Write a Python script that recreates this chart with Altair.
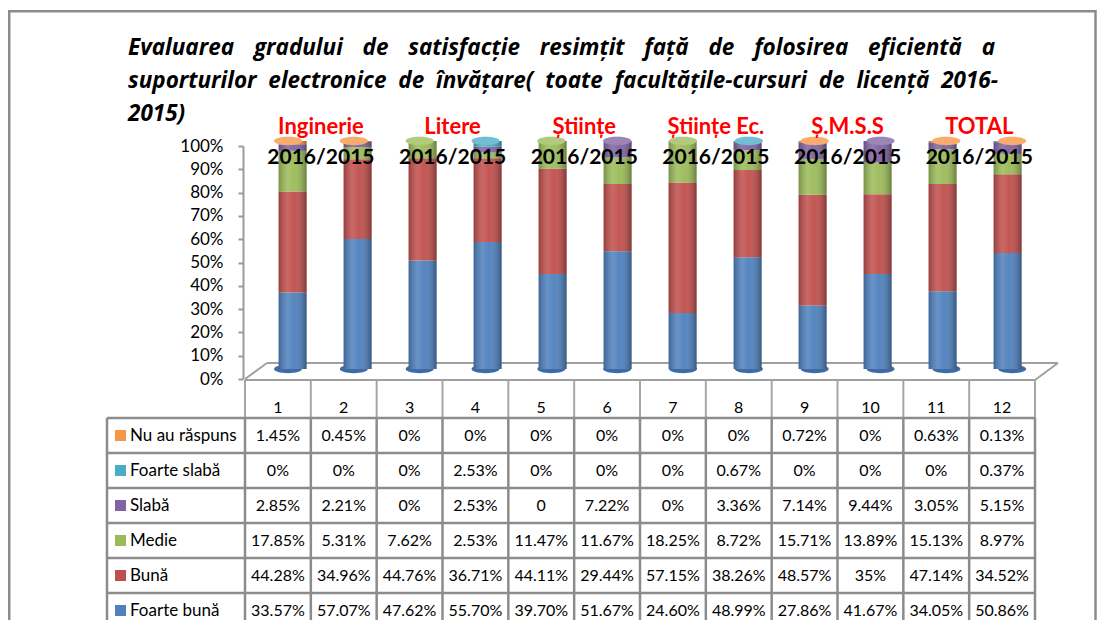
import altair as alt
import pandas as pd

# ---------------- data ----------------
columns = [1, 2, 3, 4, 5, 6, 7, 8, 9, 10, 11, 12]

# stack order: bottom -> top
categories = ["Foarte bună", "Bună", "Medie", "Slabă", "Foarte slabă", "Nu au răspuns"]
colors = ["#4F81BD", "#C0504D", "#9BBB59", "#8064A2", "#4BACC6", "#F79646"]

# table rows: top -> bottom
table_rows = ["Nu au răspuns", "Foarte slabă", "Slabă", "Medie", "Bună", "Foarte bună"]

nu_au_raspuns = ["1.45%", "0.45%", "0%", "0%", "0%", "0%", "0%", "0%", "0.72%", "0%", "0.63%", "0.13%"]
foarte_slaba = ["0%", "0%", "0%", "2.53%", "0%", "0%", "0%", "0.67%", "0%", "0%", "0%", "0.37%"]
slaba = ["2.85%", "2.21%", "0%", "2.53%", "0", "7.22%", "0%", "3.36%", "7.14%", "9.44%", "3.05%", "5.15%"]
medie = ["17.85%", "5.31%", "7.62%", "2.53%", "11.47%", "11.67%", "18.25%", "8.72%", "15.71%", "13.89%", "15.13%", "8.97%"]
buna = ["44.28%", "34.96%", "44.76%", "36.71%", "44.11%", "29.44%", "57.15%", "38.26%", "48.57%", "35%", "47.14%", "34.52%"]
foarte_buna = ["33.57%", "57.07%", "47.62%", "55.70%", "39.70%", "51.67%", "24.60%", "48.99%", "27.86%", "41.67%", "34.05%", "50.86%"]

groups = ["Inginerie", "Litere", "Științe", "Științe Ec.", "Ș.M.S.S", "TOTAL"]
period = "2016/2015"

y_ticks = [0, 0.1, 0.2, 0.3, 0.4, 0.5, 0.6, 0.7, 0.8, 0.9, 1.0]

title_line1 = "Evaluarea gradului de satisfacție resimțit față de folosirea eficientă a"
title_line2 = "suporturilor electronice de învățare( toate facultățile-cursuri de licență 2016-"
title_line3 = "2015)"

# ---------------- tables built from the lists ----------------
series = {
    "Nu au răspuns": nu_au_raspuns,
    "Foarte slabă": foarte_slaba,
    "Slabă": slaba,
    "Medie": medie,
    "Bună": buna,
    "Foarte bună": foarte_buna,
}

def num(s):
    return float(s.rstrip("%"))

def justify(line, extra):
    # widen word gaps (non-collapsing spaces) to mimic the justified paragraph
    return (" " + extra).join(line.split(" "))

title_text = "\n".join([
    justify(title_line1, "\u00a0\u00a0\u200a"),
    justify(title_line2, "\u2009\u200a"),
    title_line3,
])

bar_rows = []
for cat in categories:
    for c, s in zip(columns, series[cat]):
        bar_rows.append({"col": c, "cat": cat, "value": num(s), "ord": categories.index(cat)})
bar_df = pd.DataFrame(bar_rows)

cell_rows = []
for r, cat in enumerate(table_rows):
    for c, s in zip(columns, series[cat]):
        cell_rows.append({"col": c, "row": r, "txt": s})
cell_df = pd.DataFrame(cell_rows)

leg_df = pd.DataFrame({"row": list(range(len(table_rows))), "cat": table_rows})

top_rows = []
for i, c in enumerate(columns):
    top = categories[0]
    for cat in categories:
        if num(series[cat][i]) > 0:
            top = cat
    top_rows.append({"col": c, "cat": top, "y": 1.0, "y0": 0.0})
top_df = pd.DataFrame(top_rows)

grp_df = pd.DataFrame({
    "pos": [(columns[2 * k] + columns[2 * k + 1]) / 2 for k in range(len(groups))],
    "g": groups,
    "p": [period] * len(groups),
})

hdr_df = pd.DataFrame({"col": columns, "lbl": [str(c) for c in columns]})
bnd_df = pd.DataFrame({"b": [c - 0.5 for c in columns] + [columns[-1] + 0.5]})
rbnd_df = pd.DataFrame({"r": [r - 0.5 for r in range(len(table_rows) + 1)]})
tick_df = pd.DataFrame({"t": y_ticks})
dummy = pd.DataFrame({"a": [0]})
title_df = pd.DataFrame({"t": [title_text]})

# ---------------- scales ----------------
n = len(columns)
BAR_X = alt.Scale(domain=[0.5, n + 0.5], range=[247.1, 1037.1])
BAR_Y = alt.Scale(domain=[0, 1], range=[361, 133])
AX_Y = alt.Scale(domain=[0, 1], range=[371, 138])
TAB_X = alt.Scale(domain=[0.5, n + 0.5], range=[237, 1027])
TAB_Y = alt.Scale(domain=[-0.5, len(table_rows) - 0.5], range=[410, 620])
COLOR = alt.Scale(domain=categories, range=colors)

GRID = "#8c8c8c"
FONT = "Lato"
BAR_W = 28
ELLIPSE = "M-1,0 A1,0.3 0 1,1 1,0 A1,0.3 0 1,1 -1,0 Z"

# ---------------- layers ----------------
border = alt.Chart(dummy).mark_rect(fillOpacity=0, stroke=GRID, strokeWidth=2.5).encode(
    x=alt.value(1.25), x2=alt.value(1087.5), y=alt.value(3.25), y2=alt.value(700)
)

title = alt.Chart(title_df).mark_text(
    align="left", baseline="alphabetic", lineBreak="\n", lineHeight=33,
    font="Open Sans", fontSize=22.5, fontStyle="italic", fontWeight="bold", color="black"
).encode(x=alt.value(120), y=alt.value(47), text="t:N")

axis_layer = alt.Chart(tick_df).mark_point(opacity=0).encode(
    y=alt.Y("t:Q", scale=AX_Y, axis=alt.Axis(
        values=y_ticks, format=".0%", offset=-235, tickSize=5, labelPadding=15,
        domainColor="#9a9a9a", domainWidth=2, tickColor="#9a9a9a", tickWidth=2,
        labelFont=FONT, labelFontSize=17, labelColor="black", grid=False, title=None,
        labelFlush=False, labelOverlap=False,
    ))
)

floor = [
    alt.Chart(dummy).mark_rule(color="#a0a0a0", strokeWidth=2).encode(
        x=alt.value(237), y=alt.value(371), x2=alt.value(259), y2=alt.value(355)),
    alt.Chart(dummy).mark_rule(color="#a0a0a0", strokeWidth=2).encode(
        x=alt.value(259), y=alt.value(355), x2=alt.value(1050), y2=alt.value(355)),
    alt.Chart(dummy).mark_rule(color="#a0a0a0", strokeWidth=2).encode(
        x=alt.value(1050), y=alt.value(355), x2=alt.value(1027), y2=alt.value(372)),
    alt.Chart(dummy).mark_rule(color="#a0a0a0", strokeWidth=2).encode(
        x=alt.value(237), y=alt.value(372), x2=alt.value(1027), y2=alt.value(372)),
]

bottom_caps = alt.Chart(top_df).mark_point(
    shape=ELLIPSE, size=BAR_W * BAR_W, filled=True, opacity=1, strokeWidth=0, color="#3E6BA6"
).encode(
    x=alt.X("col:Q", scale=BAR_X, axis=None),
    y=alt.Y("y0:Q", scale=BAR_Y, axis=None),
)

bars = alt.Chart(bar_df).mark_bar(width=BAR_W).encode(
    x=alt.X("col:Q", scale=BAR_X, axis=None),
    y=alt.Y("value:Q", stack="normalize", scale=BAR_Y, axis=None),
    color=alt.Color("cat:N", scale=COLOR, legend=None),
    order=alt.Order("ord:Q"),
)

shade = alt.Gradient(
    gradient="linear", x1=0, x2=1, y1=0, y2=0,
    stops=[
        alt.GradientStop(color="rgba(0,0,0,0.22)", offset=0),
        alt.GradientStop(color="rgba(255,255,255,0.14)", offset=0.32),
        alt.GradientStop(color="rgba(255,255,255,0.04)", offset=0.55),
        alt.GradientStop(color="rgba(0,0,0,0.32)", offset=1),
    ],
)
overlay = alt.Chart(top_df).mark_bar(width=BAR_W, color=shade).encode(
    x=alt.X("col:Q", scale=BAR_X, axis=None),
    y=alt.Y("y0:Q", scale=BAR_Y, axis=None),
    y2="y:Q",
)

top_caps = alt.Chart(top_df).mark_point(
    shape=ELLIPSE, size=BAR_W * BAR_W, filled=True, opacity=1, strokeWidth=0
).encode(
    x=alt.X("col:Q", scale=BAR_X, axis=None),
    y=alt.Y("y:Q", scale=BAR_Y, axis=None),
    color=alt.Color("cat:N", scale=COLOR, legend=None),
)
cap_light = alt.Chart(top_df).mark_point(
    shape=ELLIPSE, size=BAR_W * BAR_W, filled=True, opacity=0.22, strokeWidth=0, color="white"
).encode(
    x=alt.X("col:Q", scale=BAR_X, axis=None),
    y=alt.Y("y:Q", scale=BAR_Y, axis=None),
)

grp_text = alt.Chart(grp_df).mark_text(
    align="center", baseline="alphabetic", font=FONT, fontSize=22, fontWeight="bold", color="#FF0000"
).encode(x=alt.X("pos:Q", scale=BAR_X, axis=None), y=alt.value(126), text="g:N")

per_text = alt.Chart(grp_df).mark_text(
    align="center", baseline="alphabetic", font=FONT, fontSize=21, fontWeight="bold", color="black"
).encode(x=alt.X("pos:Q", scale=BAR_X, axis=None), y=alt.value(156), text="p:N")

hdr_text = alt.Chart(hdr_df).mark_text(
    align="center", baseline="middle", font=FONT, fontSize=16, color="black"
).encode(x=alt.X("col:Q", scale=TAB_X, axis=None), y=alt.value(400), text="lbl:N")

hdr_rules = alt.Chart(bnd_df).mark_rule(color="#a6a6a6", strokeWidth=2).encode(
    x=alt.X("b:Q", scale=TAB_X, axis=None), y=alt.value(372), y2=alt.value(410)
)
v_rules = alt.Chart(bnd_df).mark_rule(color=GRID, strokeWidth=2.5).encode(
    x=alt.X("b:Q", scale=TAB_X, axis=None), y=alt.value(410), y2=alt.value(700)
)
left_rule = alt.Chart(dummy).mark_rule(color=GRID, strokeWidth=2.5).encode(
    x=alt.value(99), y=alt.value(410), y2=alt.value(700)
)
h_rules = alt.Chart(rbnd_df).mark_rule(color=GRID, strokeWidth=2.5).encode(
    y=alt.Y("r:Q", scale=TAB_Y, axis=None), x=alt.value(99), x2=alt.value(1027)
)

cells = alt.Chart(cell_df).mark_text(
    align="center", baseline="middle", font=FONT, fontSize=16, color="black"
).encode(
    x=alt.X("col:Q", scale=TAB_X, axis=None),
    y=alt.Y("row:Q", scale=TAB_Y, axis=None),
    text="txt:N",
)

swatches = alt.Chart(leg_df).mark_square(size=121, opacity=1).encode(
    x=alt.value(112.5),
    y=alt.Y("row:Q", scale=TAB_Y, axis=None),
    color=alt.Color("cat:N", scale=COLOR, legend=None),
)
leg_text = alt.Chart(leg_df).mark_text(
    align="left", baseline="middle", font=FONT, fontSize=17, color="black"
).encode(
    x=alt.value(122),
    y=alt.Y("row:Q", scale=TAB_Y, axis=None),
    text="cat:N",
)

chart = alt.layer(
    border, title, axis_layer, *floor, bottom_caps, bars, overlay, top_caps, cap_light,
    grp_text, per_text, hdr_rules, v_rules, left_rule, h_rules, hdr_text, cells, swatches, leg_text,
).resolve_scale(
    x="independent", y="independent"
).properties(
    width=1089, height=612, autosize=alt.AutoSizeParams(type="none"), padding=0,
    background="white",
).configure_view(stroke=None)

chart.save("out.html", embed_options={"renderer": "svg", "actions": False})
